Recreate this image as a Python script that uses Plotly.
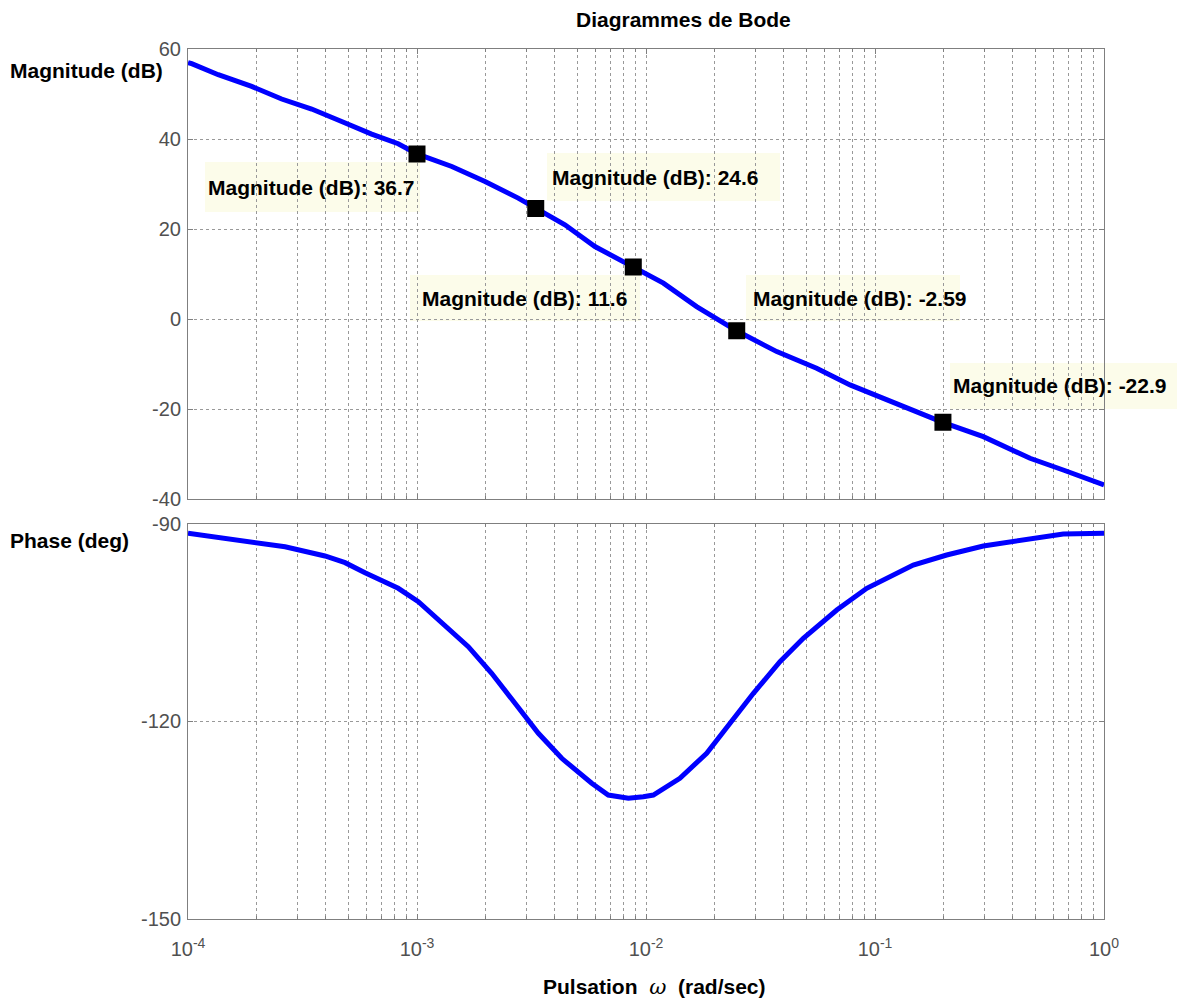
import plotly.graph_objects as go

# ---- data ----
mag_logw = [-4.0, -3.984, -3.868, -3.722, -3.591, -3.460, -3.329, -3.198, -3.082, -3.0,
            -2.848, -2.703, -2.558, -2.482, -2.354, -2.223, -2.056, -1.924, -1.779,
            -1.604, -1.429, -1.255, -1.109, -0.905, -0.704, -0.527, -0.323, -0.178, 0.0]
mag_db = [57.0, 56.73, 54.29, 51.69, 48.89, 46.67, 43.91, 41.11, 38.96, 36.7,
          33.91, 30.58, 26.89, 24.6, 20.96, 16.13, 11.6, 8.0, 2.8,
          -2.59, -7.2, -10.89, -14.60, -18.67, -22.9, -26.09, -30.89, -33.49, -36.82]

ph_logw = [-4.0, -3.809, -3.707, -3.576, -3.402, -3.314, -3.227, -3.082, -2.994, -2.878,
           -2.776, -2.674, -2.558, -2.470, -2.368, -2.237, -2.165, -2.077, -2.012,
           -1.968, -1.852, -1.735, -1.633, -1.531, -1.415, -1.313, -1.167, -1.036,
           -0.833, -0.687, -0.527, -0.323, -0.178, 0.0]
ph_deg = [-91.49, -92.40, -92.76, -93.52, -94.93, -95.94, -97.46, -99.83, -101.86, -105.40,
          -108.69, -112.72, -117.79, -121.83, -125.62, -129.41, -131.19, -131.69, -131.44,
          -131.19, -128.65, -124.86, -120.31, -115.76, -110.96, -107.42, -103.12, -99.83,
          -96.30, -94.78, -93.41, -92.40, -91.59, -91.49]

tip_w = [1e-3, 3.3e-3, 8.8e-3, 0.0249, 0.198]
tip_db = [36.7, 24.6, 11.6, -2.59, -22.9]
tip_labels = ["Magnitude (dB): 36.7", "Magnitude (dB): 24.6", "Magnitude (dB): 11.6",
              "Magnitude (dB): -2.59", "Magnitude (dB): -22.9"]

mag_ticks = [-40, -20, 0, 20, 40, 60]
ph_ticks = [-150, -120, -90]
decades = [-4, -3, -2, -1, 0]

# ---- layout geometry (pixels in the 1180x1001 page) ----
W, H = 1180, 1001
L, R, T, B = 188, 1104, 49, 919
pw, ph = R - L, B - T


def px(x):
    return (x - L) / pw


def py(y):
    return (B - y) / ph


# data-tip boxes (pixel rects) and text anchors
tip_boxes = [(205, 162, 420, 212), (547, 153, 780, 201), (410, 275, 640, 321),
             (746, 275, 960, 321), (950, 363, 1177, 409)]
tip_text = [(206, 188), (550, 177), (420, 298), (751, 298), (951, 386)]

mag_w = [10 ** v for v in mag_logw]
ph_w = [10 ** v for v in ph_logw]

major_vals = [10 ** d for d in decades]
major_text = ["10<sup>%d</sup>" % d for d in decades]
minor_vals = [m * 10 ** d for d in decades[:-1] for m in range(2, 10)]

fig = go.Figure()
line_blue = dict(color="#0000FF", width=5)
fig.add_trace(go.Scatter(x=mag_w, y=mag_db, mode="lines", line=line_blue,
                         xaxis="x", yaxis="y", showlegend=False, hoverinfo="skip"))
fig.add_trace(go.Scatter(x=tip_w, y=tip_db, mode="markers",
                         marker=dict(symbol="square", size=17, color="black"),
                         xaxis="x", yaxis="y", showlegend=False))
fig.add_trace(go.Scatter(x=ph_w, y=ph_deg, mode="lines", line=line_blue,
                         xaxis="x2", yaxis="y2", showlegend=False, hoverinfo="skip"))

grid = dict(showgrid=True, gridcolor="#999999", griddash="dot", gridwidth=1)
frame = dict(showline=True, linecolor="#7f7f7f", linewidth=1, mirror="ticks",
             ticks="inside", ticklen=5, tickcolor="#7f7f7f", zeroline=False)
minor = dict(tickvals=minor_vals, showgrid=True, gridcolor="#999999", griddash="dot",
             gridwidth=1, ticks="inside", ticklen=3, tickcolor="#7f7f7f")
tickfont = dict(family="Liberation Sans, Arial", size=20, color="#505050")

top_dom = [py(499.3), 1.0]
bot_dom = [0.0, py(523.5)]

fig.update_layout(
    width=W, height=H,
    margin=dict(l=L, r=W - R, t=T, b=H - B),
    paper_bgcolor="white", plot_bgcolor="white",
    xaxis=dict(type="log", range=[-4, 0], domain=[0, 1], anchor="y",
               tickvals=major_vals, ticktext=major_text, showticklabels=False,
               minor=minor, **grid, **frame),
    yaxis=dict(range=[-40, 60], domain=top_dom, anchor="x", tickvals=mag_ticks,
               ticktext=[str(v) for v in mag_ticks], tickfont=tickfont,
               ticklabelstandoff=2, **grid, **frame),
    xaxis2=dict(type="log", range=[-4, 0], domain=[0, 1], anchor="y2",
                tickvals=major_vals, ticktext=major_text, tickfont=tickfont,
                ticklabelstandoff=12, minor=minor, **grid, **frame),
    yaxis2=dict(range=[-150, -90], domain=bot_dom, anchor="x2", tickvals=ph_ticks,
                ticktext=[str(v) for v in ph_ticks], tickfont=tickfont,
                ticklabelstandoff=2, **grid, **frame),
)

bold = dict(family="Liberation Sans, Arial", size=21, color="black")
shapes = []
annotations = []
for (x0, y0, x1, y1) in tip_boxes:
    shapes.append(dict(type="rect", xref="paper", yref="paper",
                       x0=px(x0), x1=px(x1), y0=py(y1), y1=py(y0),
                       fillcolor="#FCFCEA", line=dict(width=0), layer="below"))
for (tx, ty), lab in zip(tip_text, tip_labels):
    annotations.append(dict(text="<b>%s</b>" % lab, xref="paper", yref="paper",
                            x=px(tx), y=py(ty), xanchor="left", yanchor="middle",
                            showarrow=False, font=bold))

annotations.append(dict(text="<b>Diagrammes de Bode</b>", xref="paper", yref="paper",
                        x=px(683), y=py(20), xanchor="center", yanchor="middle",
                        showarrow=False, font=bold))
annotations.append(dict(text="<b>Magnitude (dB)</b>", xref="paper", yref="paper",
                        x=px(8), y=py(70), xanchor="left", yanchor="middle",
                        showarrow=False, font=bold))
annotations.append(dict(text="<b>Phase (deg)</b>", xref="paper", yref="paper",
                        x=px(8), y=py(540), xanchor="left", yanchor="middle",
                        showarrow=False, font=bold))
annotations.append(dict(
    text="<b>Pulsation</b>  <span style='font-family:DejaVu Serif'><i>ω</i></span>  <b>(rad/sec)</b>",
    xref="paper", yref="paper", x=px(654), y=py(987), xanchor="center", yanchor="middle",
    showarrow=False, font=bold))

fig.update_layout(shapes=shapes, annotations=annotations)
fig.write_html("out.html", config={"displayModeBar": False},
               post_script="document.body.style.margin='0';document.body.style.padding='0';")
